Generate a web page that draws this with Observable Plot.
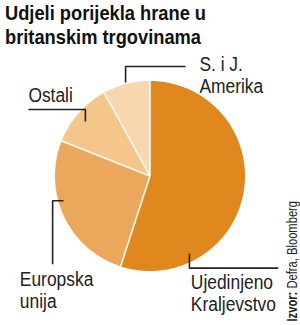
<!DOCTYPE html>
<html>
<head>
<meta charset="utf-8">
<script src="https://cdn.jsdelivr.net/npm/d3@7"></script>
<script src="https://cdn.jsdelivr.net/npm/@observablehq/plot@0.6"></script>
<style>
  html, body { margin: 0; padding: 0; background: #fff; }
  body { width: 300px; height: 325px; overflow: hidden; position: relative;
         font-family: "Liberation Sans", Arial, sans-serif; }
  .tl { position: absolute; left: 5px; font-weight: bold; font-size: 21px;
        line-height: 22px; color: #111; white-space: nowrap;
        transform: scaleX(0.87); transform-origin: 0 0; }
  #chart { position: absolute; left: 0; top: 48px; }
</style>
</head>
<body>
<div class="tl" style="top:2px">Udjeli porijekla hrane u</div>
<div class="tl" style="top:25.5px">britanskim trgovinama</div>
<div id="chart"></div>
<script>
// ---- data ----
const categories = ["Ujedinjeno Kraljevstvo", "Europska unija", "Ostali", "S. i J. Amerika"];
const shares = [55, 26, 11, 8];
const colors = ["#e0871d", "#eba85c", "#f5c68c", "#f7d7ae"];
const labelTexts = ["Ujedinjeno\nKraljevstvo", "Europska\nunija", "Ostali", "S. i J.\nAmerika"];
const sourceText = "Izvor: Defra, Bloomberg";

// ---- layout (unit = pie radius, pie centre at 0,0) ----
const W = 300, H = 277;
const R = 95, CX = 149.5, CY = 127.5; // px within svg
// label last-baseline positions & leader lines, in pie-radius units
const labelPos = [[0.43, -1.42], [-1.37, -1.39], [-1.28, 0.78], [0.52, 0.87]];
const leaders = [
  [[0.415, -0.815], [0.415, -0.97], [1.35, -0.97]],
  [[-0.91, -0.26], [-1.025, -0.26], [-1.025, -0.93]],
  [[-1.28, 0.70], [-0.68, 0.70], [-0.68, 0.575]],
  [[-0.257, 0.985], [-0.257, 1.152], [0.375, 1.152]]
];

const arcs = d3.pie().sort(null).value(d => d)(shares);
const slicePts = [];
arcs.forEach((a, i) => {
  slicePts.push({cat: categories[i], x: 0, y: 0});
  const n = Math.max(4, Math.ceil((a.endAngle - a.startAngle) / 0.01));
  for (let k = 0; k <= n; k++) {
    const t = a.startAngle + (a.endAngle - a.startAngle) * k / n;
    slicePts.push({cat: categories[i], x: Math.sin(t), y: Math.cos(t)});
  }
  slicePts.push({cat: categories[i], x: 0, y: 0});
});
const borders = arcs.map(a => ({x2: Math.sin(a.startAngle), y2: Math.cos(a.startAngle)}));
const leaderPts = leaders.flatMap((pts, i) => pts.map(([x, y]) => ({cat: categories[i], x, y})));
const labels = categories.map((c, i) => ({text: labelTexts[i], x: labelPos[i][0], y: labelPos[i][1]}));

const chart = Plot.plot({
  width: W, height: H,
  margin: 0,
  x: {domain: [-CX / R, (W - CX) / R], range: [0, W], axis: null},
  y: {domain: [-(H - CY) / R, CY / R], range: [H, 0], axis: null},
  color: {domain: categories, range: colors},
  style: {fontFamily: '"Liberation Sans", Arial, sans-serif', background: "transparent"},
  marks: [
    Plot.line(slicePts, {x: "x", y: "y", z: "cat", fill: "cat", stroke: "none", curve: "linear"}),
    Plot.link(borders, {x1: 0, y1: 0, x2: "x2", y2: "y2", stroke: "#fff", strokeWidth: 1.5}),
    Plot.line(leaderPts, {x: "x", y: "y", z: "cat", stroke: "#222", strokeWidth: 1.6, strokeLinecap: "butt", strokeLinejoin: "miter"}),
    Plot.text(labels, {x: "x", y: "y", text: "text", textAnchor: "start", lineAnchor: "bottom",
      lineHeight: 1.1, fontSize: 20, fill: "#222"}),
    Plot.text([sourceText], {x: (292 - CX) / R, y: -(H - 4 - CY) / R, text: d => d, rotate: -90,
      textAnchor: "start", lineAnchor: "middle", fontSize: 14, fill: "#222"})
  ]
});
document.getElementById("chart").appendChild(chart);

// condense the text horizontally (narrow typeface look)
chart.querySelectorAll("text").forEach(t => {
  let tr = t.getAttribute("transform");
  if (!tr) {
    const x = +(t.getAttribute("x") || 0), y = +(t.getAttribute("y") || 0);
    t.removeAttribute("x"); t.removeAttribute("y");
    tr = `translate(${x},${y})`;
  }
  const s = t.textContent === sourceText ? 0.8 : 0.87;
  t.setAttribute("transform", tr + ` scale(${s},1)`);
});

// make "Izvor:" bold inside the rotated source text
const srcNode = Array.from(chart.querySelectorAll("text")).find(t => t.textContent === sourceText);
if (srcNode) {
  srcNode.textContent = "";
  const ns = "http://www.w3.org/2000/svg";
  const b = document.createElementNS(ns, "tspan");
  b.setAttribute("font-weight", "bold");
  b.textContent = "Izvor:";
  const r = document.createElementNS(ns, "tspan");
  r.textContent = " Defra, Bloomberg";
  srcNode.appendChild(b);
  srcNode.appendChild(r);
}
</script>
</body>
</html>
